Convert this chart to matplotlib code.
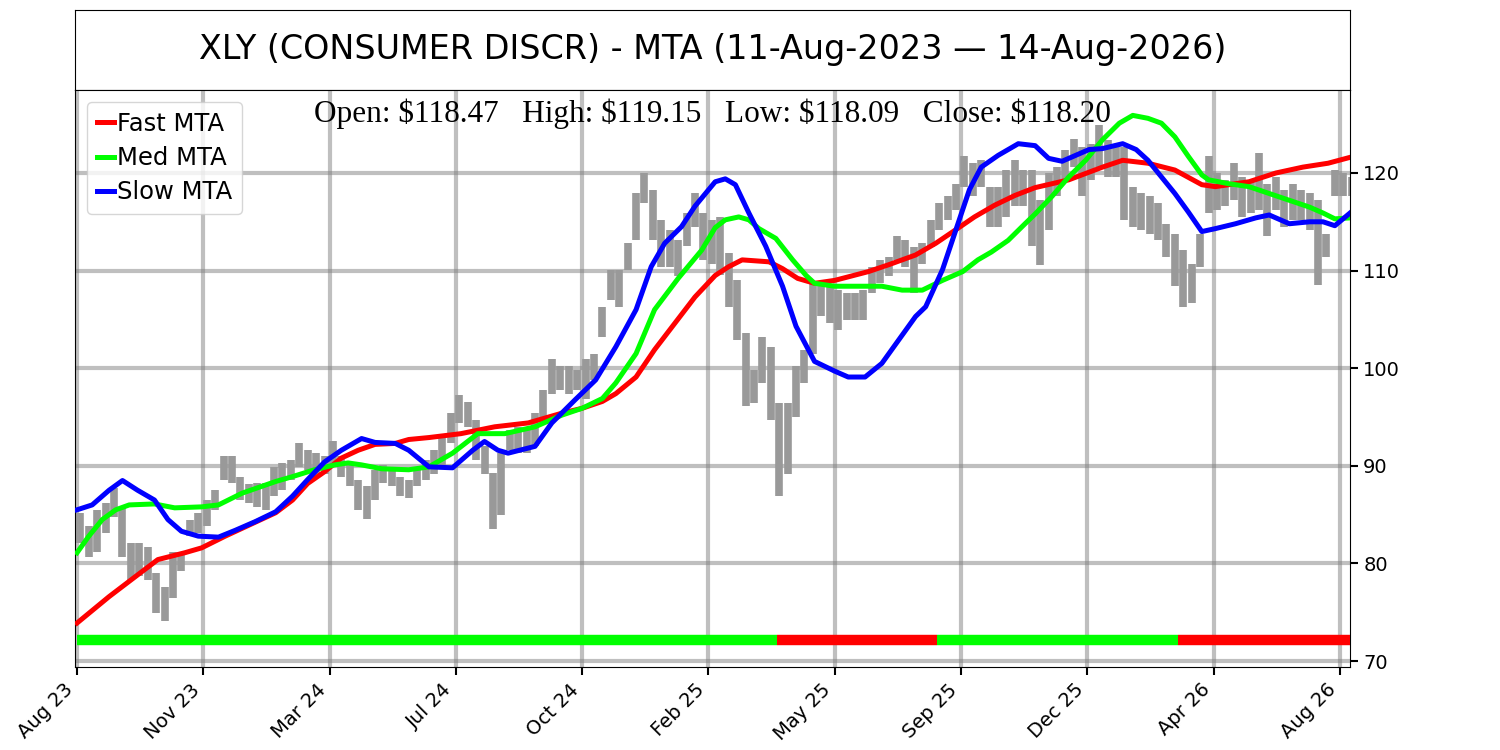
import matplotlib
matplotlib.use("Agg")
import matplotlib.pyplot as plt
import numpy as np

title = "XLY (CONSUMER DISCR) - MTA (11-Aug-2023 \u2014 14-Aug-2026)"
last_open, last_high, last_low, last_close = 118.47, 119.15, 118.09, 118.20
n_bars = 757

# high / low of each block of 5 daily bars
block_size = 5
block_high = [85.2, 83.8, 85.5, 86.2, 87.7, 85.8, 82.1, 82.1, 81.7, 79.0,
              77.6, 81.2, 81.2, 84.5, 85.2, 86.5, 87.5, 91.0, 91.0, 88.9,
              88.1, 88.2, 88.2, 89.9, 90.3, 90.6, 92.3, 91.6, 91.3, 91.0,
              92.5, 91.0, 90.3, 88.6, 87.9, 89.6, 90.1, 89.9, 88.9, 88.6,
              89.6, 90.6, 91.6, 93.0, 95.4, 97.3, 96.5, 94.7, 92.0, 89.3,
              91.3, 93.7, 94.0, 94.0, 95.4, 97.8, 100.9, 100.2, 100.2, 99.8,
              100.9, 101.5, 106.3, 110.1, 110.1, 112.8, 117.9, 120.0, 118.3, 115.2,
              114.2, 113.1, 115.9, 117.9, 115.9, 115.2, 115.5, 111.8, 109.0, 103.6,
              99.8, 103.2, 102.2, 96.4, 96.4, 100.2, 101.9, 108.7, 108.7, 108.4,
              108.0, 107.7, 107.7, 108.0, 110.4, 111.1, 111.4, 113.5, 113.1, 112.4,
              112.8, 115.2, 116.9, 117.6, 118.9, 121.7, 121.0, 121.3, 118.6, 118.6,
              120.3, 121.3, 120.3, 120.3, 117.2, 120.0, 120.6, 122.4, 123.5, 122.7,
              123.0, 124.9, 123.4, 123.0, 122.7, 118.6, 117.9, 117.6, 116.9, 114.8,
              113.8, 112.1, 110.7, 113.8, 121.7, 120.0, 119.3, 121.0, 119.6, 119.3,
              122.0, 118.9, 119.6, 118.3, 118.9, 118.3, 117.9, 117.2, 113.8, 120.3,
              120.0, 119.6]
block_low = [82.1, 80.7, 81.2, 83.1, 84.8, 80.7, 78.3, 78.7, 78.3, 74.9,
             74.1, 76.5, 79.2, 82.8, 83.1, 83.8, 85.5, 88.6, 88.2, 86.5,
             86.2, 85.8, 85.5, 86.9, 87.5, 88.6, 89.9, 89.6, 88.9, 89.2,
             89.9, 88.9, 87.9, 85.5, 84.6, 86.5, 88.2, 87.9, 86.9, 86.7,
             87.9, 88.6, 89.2, 89.9, 92.3, 94.4, 94.0, 90.6, 89.2, 83.5,
             85.0, 91.6, 91.3, 91.3, 92.0, 94.4, 97.4, 97.8, 97.4, 97.8,
             96.8, 98.8, 103.2, 107.0, 106.3, 110.1, 113.1, 116.9, 113.1, 110.4,
             110.4, 109.4, 112.5, 114.5, 111.1, 110.7, 109.5, 106.3, 102.9, 96.1,
             96.4, 98.5, 94.7, 86.9, 89.2, 95.0, 98.5, 101.5, 105.3, 104.6,
             103.9, 104.9, 104.9, 104.9, 107.7, 108.7, 109.4, 111.1, 110.4, 107.7,
             110.7, 112.4, 114.2, 115.2, 116.2, 118.6, 117.6, 118.6, 114.5, 114.5,
             115.5, 116.6, 116.6, 112.5, 110.6, 114.2, 117.6, 119.3, 120.6, 117.6,
             119.3, 120.6, 119.6, 119.6, 115.2, 114.5, 114.2, 113.8, 113.1, 111.4,
             108.4, 106.3, 106.7, 110.4, 115.9, 116.2, 116.6, 117.2, 115.5, 115.9,
             116.2, 113.5, 116.2, 114.5, 115.2, 115.2, 114.2, 108.5, 111.4, 117.6,
             117.6, 117.6]

# MTA lines, read at the bar index shown in each *_idx list
fast_idx = [0, 19, 35, 48, 64, 74, 88, 98, 118, 128, 137, 147, 157, 167, 177,
            189, 197, 209, 228, 248, 268, 278, 288, 300, 312, 320, 332, 343,
            355, 367, 379, 387, 395, 411, 419, 428, 438, 450, 470, 482, 498,
            510, 522, 533, 545, 557, 569, 589, 609, 621, 636, 652, 668, 676,
            696, 712, 728, 743, 756]
fast_mta = [73.9, 76.6, 78.7, 80.4, 81.1, 81.6, 82.8, 83.6, 85.2, 86.5, 88.2,
            89.4, 90.8, 91.6, 92.2, 92.3, 92.7, 92.9, 93.3, 94.0, 94.4, 94.9,
            95.4, 95.9, 96.6, 97.4, 99.1, 101.9, 104.6, 107.3, 109.5, 110.4,
            111.1, 110.9, 110.2, 109.2, 108.7, 109.0, 109.9, 110.6, 111.6,
            112.8, 114.2, 115.5, 116.7, 117.7, 118.5, 119.3, 120.6, 121.3,
            121.0, 120.3, 118.8, 118.6, 119.1, 120.0, 120.6, 121.0, 121.6]

med_idx = [0, 7, 15, 23, 31, 46, 58, 74, 84, 98, 108, 118, 128, 141, 153, 161,
           169, 181, 197, 209, 223, 238, 254, 272, 288, 300, 312, 320, 332,
           343, 357, 371, 379, 385, 393, 399, 405, 415, 425, 433, 438, 450,
           466, 478, 490, 502, 514, 526, 535, 543, 553, 563, 569, 579, 589,
           599, 609, 619, 627, 636, 644, 652, 660, 668, 672, 684, 696, 708,
           720, 732, 740, 747, 756]
med_mta = [81.1, 82.8, 84.5, 85.5, 86.0, 86.1, 85.7, 85.8, 86.0, 87.2, 87.8,
           88.4, 88.9, 89.6, 90.1, 90.3, 90.1, 89.7, 89.6, 89.9, 91.3, 93.3,
           93.3, 94.0, 95.2, 95.9, 96.9, 98.5, 101.5, 106.0, 109.2, 112.1,
           114.4, 115.2, 115.5, 115.2, 114.3, 113.3, 111.1, 109.5, 108.7,
           108.4, 108.4, 108.4, 108.0, 108.0, 109.0, 109.9, 111.1, 111.9,
           113.1, 114.8, 115.8, 117.6, 119.6, 121.3, 123.4, 125.1, 125.9,
           125.6, 125.1, 123.7, 121.7, 119.8, 119.3, 118.9, 118.6, 117.9,
           117.2, 116.5, 115.9, 115.3, 115.4]

slow_idx = [0, 9, 19, 27, 36, 46, 54, 62, 72, 84, 94, 106, 118, 128, 137, 147,
            157, 169, 177, 189, 197, 209, 223, 235, 242, 250, 256, 272, 282,
            296, 308, 320, 332, 341, 349, 359, 367, 379, 385, 391, 399, 409,
            419, 427, 438, 450, 458, 468, 478, 488, 498, 504, 514, 522, 530,
            537, 547, 559, 569, 577, 585, 593, 601, 609, 621, 629, 636, 644,
            652, 660, 668, 676, 688, 700, 708, 720, 732, 740, 747, 756]
slow_mta = [85.5, 86.0, 87.5, 88.5, 87.5, 86.5, 84.5, 83.3, 82.8, 82.7, 83.4,
            84.3, 85.3, 86.9, 88.6, 90.4, 91.6, 92.8, 92.4, 92.3, 91.6, 89.9,
            89.8, 91.6, 92.5, 91.6, 91.3, 92.0, 94.4, 96.8, 98.8, 102.2, 106.0,
            110.4, 112.8, 114.5, 116.6, 119.1, 119.4, 118.8, 115.9, 112.5,
            108.4, 104.3, 100.7, 99.7, 99.1, 99.1, 100.5, 102.9, 105.3, 106.3,
            110.1, 114.2, 118.3, 120.6, 121.8, 123.0, 122.8, 121.5, 121.2,
            121.8, 122.4, 122.5, 123.0, 122.4, 121.3, 119.6, 117.9, 116.0,
            114.0, 114.3, 114.8, 115.4, 115.7, 114.8, 115.0, 115.0, 114.6, 115.9]

# trend signal strip along the bottom
signal_start = [0, 416, 511, 654]
signal_color = ["#00ff00", "red", "#00ff00", "red"]
signal_level = 72.2

tick_idx = list(range(0, 751, 75))
tick_labels = ["Aug 23", "Nov 23", "Mar 24", "Jul 24", "Oct 24", "Feb 25",
               "May 25", "Sep 25", "Dec 25", "Apr 26", "Aug 26"]


fig = plt.figure(figsize=(15, 7.5), dpi=100)

# title box
ax_t = fig.add_axes([0.05, 0.88, 0.85, 0.1067])
ax_t.set_xticks([])
ax_t.set_yticks([])
ax_t.text(0.5, 0.5, title, ha="center", va="center", fontsize=24,
          transform=ax_t.transAxes)

ax = fig.add_axes([0.05, 0.1107, 0.85, 0.7693])

block_x = np.arange(len(block_high)) * block_size + (block_size - 1) / 2
ax.vlines(block_x, block_low, block_high, color="#999999", linewidth=5.5, zorder=2)

ax.plot(fast_idx, fast_mta, color="red", linewidth=3.6, label="Fast MTA", zorder=3)
ax.plot(med_idx, med_mta, color="#00ff00", linewidth=3.6, label="Med MTA", zorder=3)
ax.plot(slow_idx, slow_mta, color="blue", linewidth=3.6, label="Slow MTA", zorder=3)

ends = signal_start[1:] + [n_bars - 1]
for s, e, c in zip(signal_start, ends, signal_color):
    ax.hlines(signal_level, s, e, color=c, linewidth=7.5, zorder=3)

ax.set_xlim(-1.2, 756)
ax.set_ylim(69.4, 128.5)
ax.yaxis.tick_right()
ax.set_yticks([70, 80, 90, 100, 110, 120])
ax.set_xticks(tick_idx)
ax.set_xticklabels(tick_labels, rotation=45, ha="right")
ax.tick_params(labelsize=14, length=6, width=1.5)
ax.grid(True, color="grey", alpha=0.5, linewidth=3)
ax.set_axisbelow(True)

ohlc = (f"Open: ${last_open:.2f}   High: ${last_high:.2f}   "
        f"Low: ${last_low:.2f}   Close: ${last_close:.2f}")
ax.text(0.5, 0.985, ohlc, transform=ax.transAxes, ha="center", va="top",
        fontsize=22.5, family=["Liberation Serif", "DejaVu Serif"],
        parse_math=False, zorder=5)

ax.legend(loc="upper left", fontsize=17.5, handlelength=0.7, handletextpad=0.12,
          labelspacing=0.42)

fig.savefig("out.png", dpi=100)
